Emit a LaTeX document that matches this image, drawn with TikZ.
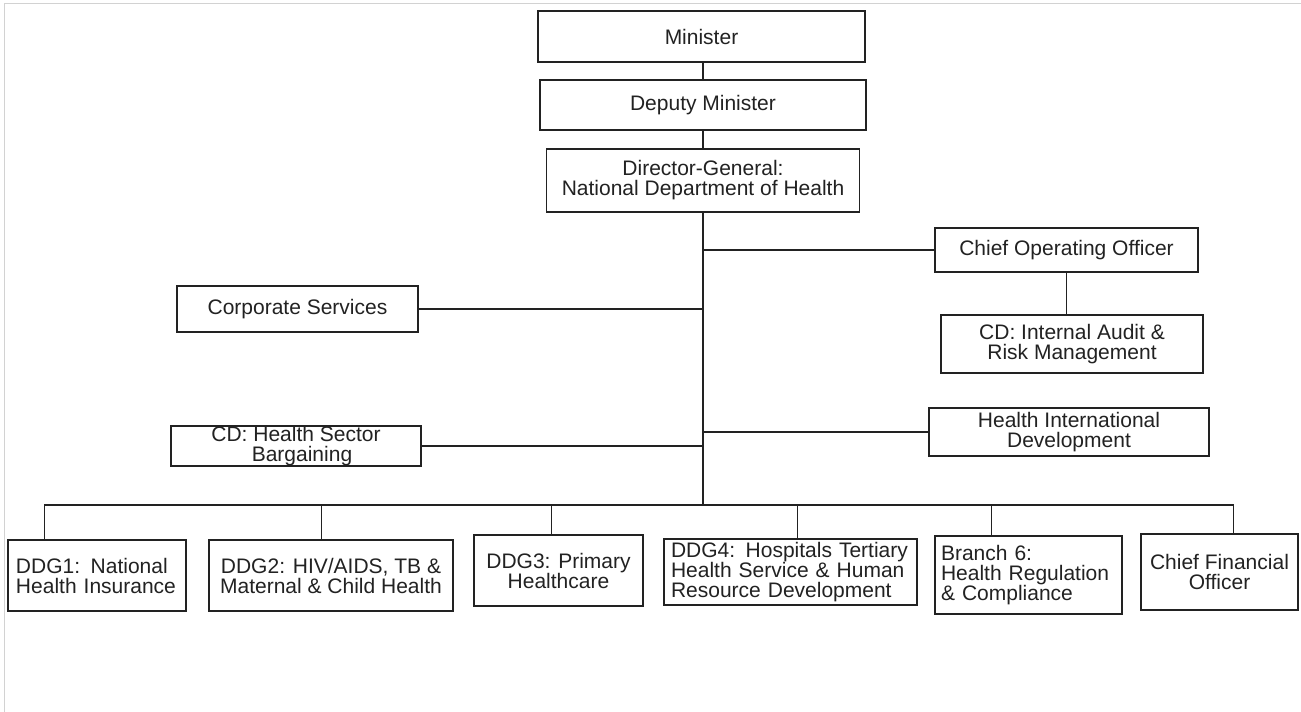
\documentclass[tikz,border=0pt]{standalone}
\usepackage{fontspec}
\setmainfont{Liberation Sans}
\usepackage{tikz}
\usetikzlibrary{positioning, arrows.meta}
\definecolor{inkgray}{HTML}{222222}
\tikzset{
	unit/.style={draw=inkgray, line width=1.4pt, fill=white, align=center, inner sep=0pt, text=inkgray},
	leftunit/.style={unit, align=left},
	link/.style={draw=inkgray, line width=1.4pt}
}

\begin{document}
\begin{tikzpicture}[x=1pt, y=-1pt, font=\fontsize{21}{20}\selectfont]
\useasboundingbox (0,0) rectangle (1301,712);
\draw[gray!35, line width=1pt] (4,712) -- (4,3) -- (1301,3);

\node[unit, minimum width=327pt, minimum height=51pt] (min) at (701.5,36.5) {Minister};
\node[unit, minimum width=326pt, minimum height=50pt] (dep) at (703,105) {Deputy Minister};
\node[unit, minimum width=313pt, minimum height=63pt] (dg) at (703,180.5) {Director-General:\\National Department of Health};

\node[unit, minimum width=263pt, minimum height=44pt] (coo) at (1066.5,250) {Chief Operating Officer};
\node[unit, minimum width=262pt, minimum height=58pt] (aud) at (1072,344) {CD: Internal Audit \&\\Risk Management};
\node[unit, minimum width=241pt, minimum height=46pt] (corp) at (297.5,309) {Corporate Services};
\node[unit, minimum width=280pt, minimum height=48pt] (hid) at (1069,432) {Health International\\Development};
\node[unit, minimum width=250pt, minimum height=40pt] (hsb) at (296,446) {CD: Health Sector\\\hspace*{12pt}Bargaining};

\node[leftunit, minimum width=178pt, minimum height=71pt, text width=162pt] (ddg1) at (97,575.5) {DDG1: National\\Health Insurance};
\node[unit, minimum width=244pt, minimum height=71pt] (ddg2) at (331,575.5) {DDG2: HIV/AIDS, TB \&\\Maternal \& Child Health};
\node[unit, minimum width=169pt, minimum height=71pt] (ddg3) at (558.5,570.5) {DDG3: Primary\\Healthcare};
\node[leftunit, minimum width=253pt, minimum height=66pt, text width=239pt] (ddg4) at (790.5,572) {DDG4: Hospitals Tertiary\\Health Service \& Human\\Resource Development};
\node[leftunit, minimum width=187pt, minimum height=78pt, text width=175pt] (br6) at (1028.5,575) {Branch 6:\\Health Regulation\\\& Compliance};
\node[unit, minimum width=157pt, minimum height=76pt] (cfo) at (1219.5,572) {Chief Financial\\Officer};

\coordinate (bus) at (703,505);

\draw[link] (dep.north) -- (dep.north |- min.south);
\draw[link] (dep.south) -- (dg.north);
\draw[link] (dg.south) -- (bus);
\draw[link] (coo.west) -- (coo.west -| dg.south);
\draw[link] (coo.south) -- (coo.south |- aud.north);
\draw[link] (corp.east) -- (corp.east -| dg.south);
\draw[link] (hid.west) -- (hid.west -| dg.south);
\draw[link] (hsb.east) -- (hsb.east -| dg.south);

\draw[link] ([xshift=37pt]ddg1.north west) |- (bus);
\draw[link] ([xshift=113pt]ddg2.north west) |- (bus);
\draw[link] ([xshift=78pt]ddg3.north west) |- (bus);
\draw[link] ([xshift=134pt]ddg4.north west) |- (bus);
\draw[link] ([xshift=57pt]br6.north west) |- (bus);
\draw[link] ([xshift=93pt]cfo.north west) |- (bus);
\end{tikzpicture}
\end{document}
